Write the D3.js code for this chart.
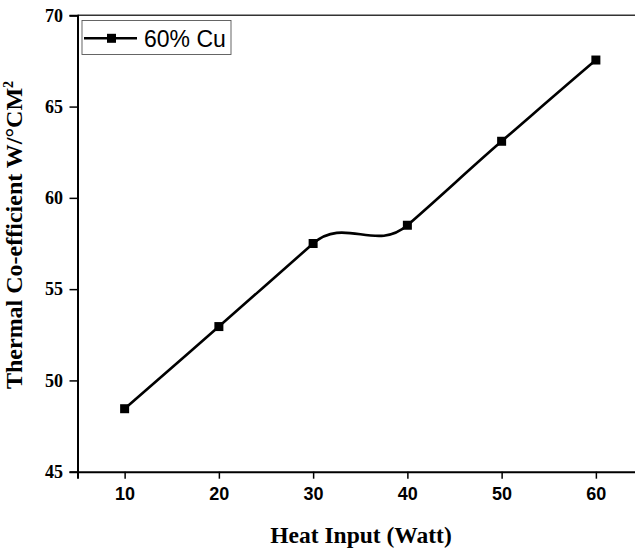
<!DOCTYPE html>
<html>
<head>
<meta charset="utf-8">
<script src="https://cdn.jsdelivr.net/npm/d3@7"></script>
<style>
  html, body { margin: 0; padding: 0; background: #fff; }
  svg { display: block; }
</style>
</head>
<body>
<svg id="chart" width="635" height="548"></svg>
<script>
// Heat input (W) and measured thermal coefficient for the 60% Cu sample
const heatInput = [10, 20, 30, 40, 50, 60];
const thermalCoeff = [48.45, 52.95, 57.5, 58.5, 63.1, 67.55];
const seriesName = "60% Cu";

const xMajorTicks = [10, 20, 30, 40, 50, 60];
const xMinorTicks = [5, 15, 25, 35, 45, 55, 65];
const yMajorTicks = [45, 50, 55, 60, 65, 70];
const yMinorTicks = [47.5, 52.5, 57.5, 62.5, 67.5];

const svg = d3.select("#chart");
const plotLeft = 77.5, plotTop = 15.3, plotBottom = 471.7, plotRight = 643;

const x = d3.scaleLinear().domain([5, 65]).range([plotLeft, plotRight]);
const y = d3.scaleLinear().domain([45, 70]).range([plotBottom, plotTop]);

const serif = "'Liberation Serif', 'Times New Roman', serif";
const sans = "'Liberation Sans', Arial, sans-serif";

// frame: top edge
svg.append("line")
  .attr("x1", plotLeft).attr("x2", plotRight)
  .attr("y1", plotTop).attr("y2", plotTop)
  .attr("stroke", "#333").attr("stroke-width", 1.6);

// x axis
const xAxis = svg.append("g").attr("transform", `translate(0,${plotBottom})`);
xAxis.call(d3.axisBottom(x).tickValues(xMinorTicks).tickSize(4).tickFormat(""));
xAxis.call(d3.axisBottom(x).tickValues(xMajorTicks).tickSize(7).tickPadding(9).tickFormat(d3.format("d")));
xAxis.selectAll("path.domain").attr("stroke", "#000").attr("stroke-width", 2);
xAxis.selectAll(".tick line").attr("stroke", "#000").attr("stroke-width", 1.5);
xAxis.selectAll(".tick text")
  .attr("font-family", sans).attr("font-weight", "bold")
  .attr("font-size", 18).attr("fill", "#000");

// y axis
const yAxis = svg.append("g").attr("transform", `translate(${plotLeft},0)`);
yAxis.call(d3.axisLeft(y).tickValues(yMinorTicks).tickSize(4).tickFormat(""));
yAxis.call(d3.axisLeft(y).tickValues(yMajorTicks).tickSize(8).tickPadding(6.5).tickFormat(d3.format("d")));
yAxis.selectAll("path.domain").attr("stroke", "#000").attr("stroke-width", 2);
yAxis.selectAll(".tick line").attr("stroke", "#000").attr("stroke-width", 1.5);
yAxis.selectAll(".tick text")
  .attr("font-family", serif).attr("font-weight", "bold")
  .attr("font-size", 18).attr("fill", "#000");

// axis titles
svg.append("text")
  .attr("x", 361).attr("y", 543)
  .attr("text-anchor", "middle")
  .attr("font-family", serif).attr("font-weight", "bold")
  .attr("font-size", 23.5).attr("fill", "#000")
  .text("Heat Input (Watt)");

const yTitle = svg.append("text")
  .attr("transform", "translate(22,235) rotate(-90)")
  .attr("text-anchor", "middle")
  .attr("font-family", serif).attr("font-weight", "bold")
  .attr("font-size", 24).attr("fill", "#000");
yTitle.append("tspan").text("Thermal Co-efficient W/°CM");
yTitle.append("tspan").attr("font-size", 14).attr("dy", -9).text("2");

// Akima spline through the points: tangents from weighted neighbouring slopes,
// emitted as cubic Bezier segments in screen space via the scales.
function akimaPath(xs, ys) {
  const n = xs.length;
  const m = [];
  for (let i = 0; i < n - 1; i++) m.push((ys[i + 1] - ys[i]) / (xs[i + 1] - xs[i]));
  const s = i => {
    if (i >= 0 && i < n - 1) return m[i];
    if (i === -1) return 2 * m[0] - m[1];
    if (i === -2) return 2 * s(-1) - m[0];
    if (i === n - 1) return 2 * m[n - 2] - m[n - 3];
    return 2 * s(n - 1) - m[n - 2];
  };
  const t = xs.map((_, i) => {
    const w1 = Math.abs(s(i + 1) - s(i));
    const w2 = Math.abs(s(i - 1) - s(i - 2));
    if (w1 + w2 < 1e-12) return (s(i - 1) + s(i)) / 2;
    return (w1 * s(i - 1) + w2 * s(i)) / (w1 + w2);
  });
  const p = d3.path();
  p.moveTo(x(xs[0]), y(ys[0]));
  for (let i = 0; i < n - 1; i++) {
    const h = xs[i + 1] - xs[i];
    p.bezierCurveTo(
      x(xs[i] + h / 3), y(ys[i] + t[i] * h / 3),
      x(xs[i + 1] - h / 3), y(ys[i + 1] - t[i + 1] * h / 3),
      x(xs[i + 1]), y(ys[i + 1])
    );
  }
  return p.toString();
}

svg.append("path")
  .attr("d", akimaPath(heatInput, thermalCoeff))
  .attr("fill", "none")
  .attr("stroke", "#000")
  .attr("stroke-width", 2.6);

const ms = 9;
svg.append("g").selectAll("rect")
  .data(thermalCoeff)
  .join("rect")
  .attr("x", (d, i) => x(heatInput[i]) - ms / 2)
  .attr("y", d => y(d) - ms / 2)
  .attr("width", ms).attr("height", ms)
  .attr("fill", "#000");

// legend
const lg = svg.append("g");
lg.append("rect")
  .attr("x", 82).attr("y", 20.5)
  .attr("width", 149).attr("height", 34)
  .attr("fill", "#fff").attr("stroke", "#555").attr("stroke-width", 0.9);
lg.append("line")
  .attr("x1", 84).attr("x2", 137)
  .attr("y1", 38.3).attr("y2", 38.3)
  .attr("stroke", "#000").attr("stroke-width", 2.6);
lg.append("rect")
  .attr("x", 111.5 - ms / 2).attr("y", 38.3 - ms / 2)
  .attr("width", ms).attr("height", ms).attr("fill", "#000");
lg.append("text")
  .attr("x", 144).attr("y", 46.8)
  .attr("font-family", sans).attr("font-size", 23).attr("fill", "#000")
  .text(seriesName);
</script>
</body>
</html>
